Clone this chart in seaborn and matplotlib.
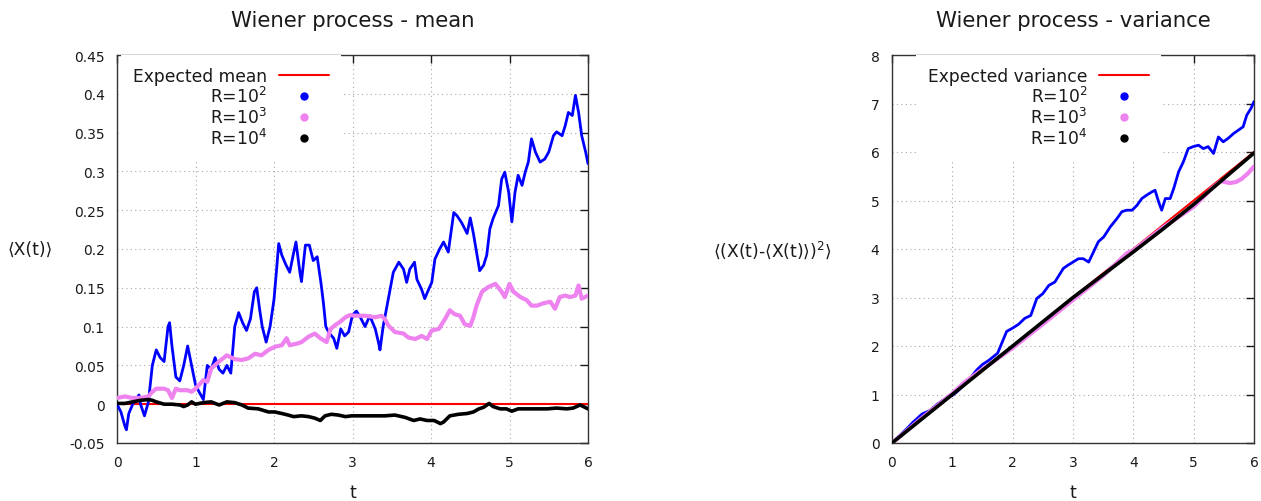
import matplotlib
matplotlib.use("Agg")
import matplotlib.pyplot as plt
from matplotlib.lines import Line2D
import numpy as np
import pandas as pd
import seaborn as sns

# ---------------- data ----------------
expected_t = [0.0, 6.0]
expected_mean = [0.0, 0.0]
expected_var = [0.0, 6.0]

mean_r2_t = [0.0, 0.05, 0.1, 0.12, 0.15, 0.2, 0.25, 0.28, 0.3, 0.35, 0.4, 0.45, 0.5, 0.55, 0.6,
             0.65, 0.67, 0.7, 0.75, 0.8, 0.85, 0.9, 0.95, 1.0, 1.05, 1.1, 1.15, 1.2, 1.25, 1.3,
             1.35, 1.4, 1.45, 1.5, 1.55, 1.6, 1.65, 1.7, 1.75, 1.78, 1.82, 1.85, 1.9, 1.95, 2.0,
             2.03, 2.06, 2.1, 2.15, 2.2, 2.25, 2.28, 2.33, 2.35, 2.4, 2.45, 2.5, 2.55, 2.6, 2.63,
             2.66, 2.7, 2.76, 2.8, 2.85, 2.9, 2.95, 3.0, 3.05, 3.1, 3.16, 3.22, 3.29, 3.33, 3.35,
             3.39, 3.44, 3.48, 3.52, 3.59, 3.65, 3.69, 3.73, 3.79, 3.82, 3.88, 3.92, 3.97, 4.01,
             4.05, 4.11, 4.16, 4.22, 4.29, 4.33, 4.39, 4.46, 4.5, 4.54, 4.58, 4.62, 4.67, 4.71,
             4.75, 4.79, 4.86, 4.9, 4.94, 4.99, 5.03, 5.07, 5.11, 5.16, 5.2, 5.24, 5.28, 5.33,
             5.39, 5.45, 5.5, 5.56, 5.6, 5.67, 5.71, 5.75, 5.8, 5.84, 5.88, 5.92, 5.97, 6.0]
mean_r2 = [0.0, -0.01, -0.028, -0.033, -0.012, 0.0, 0.007, 0.012, 0.0, -0.015, 0.003, 0.05, 0.07,
           0.06, 0.055, 0.1, 0.105, 0.075, 0.035, 0.03, 0.05, 0.075, 0.05, 0.025, 0.015, 0.006,
           0.05, 0.045, 0.06, 0.045, 0.04, 0.05, 0.04, 0.1, 0.118, 0.105, 0.095, 0.11, 0.145,
           0.15, 0.12, 0.1, 0.08, 0.1, 0.135, 0.17, 0.207, 0.192, 0.18, 0.17, 0.195, 0.209, 0.17,
           0.158, 0.205, 0.205, 0.185, 0.19, 0.155, 0.13, 0.1, 0.092, 0.085, 0.072, 0.097, 0.088,
           0.093, 0.115, 0.12, 0.112, 0.1, 0.114, 0.097, 0.08, 0.07, 0.1, 0.127, 0.148, 0.17,
           0.183, 0.174, 0.157, 0.174, 0.183, 0.161, 0.148, 0.136, 0.148, 0.157, 0.187, 0.2,
           0.209, 0.196, 0.247, 0.243, 0.234, 0.22, 0.24, 0.22, 0.196, 0.172, 0.179, 0.192,
           0.226, 0.239, 0.256, 0.29, 0.299, 0.273, 0.235, 0.273, 0.295, 0.282, 0.299, 0.312,
           0.342, 0.325, 0.312, 0.316, 0.325, 0.346, 0.351, 0.346, 0.359, 0.376, 0.372, 0.398,
           0.376, 0.346, 0.325, 0.31]

mean_r3_t = [0.0, 0.1, 0.2, 0.3, 0.4, 0.45, 0.5, 0.6, 0.65, 0.7, 0.75, 0.8, 0.9, 0.95, 1.0, 1.1,
             1.15, 1.2, 1.3, 1.4, 1.5, 1.59, 1.67, 1.76, 1.84, 1.93, 2.01, 2.1, 2.16, 2.2, 2.29,
             2.35, 2.44, 2.52, 2.59, 2.67, 2.72, 2.78, 2.84, 2.91, 2.97, 3.03, 3.1, 3.16, 3.29,
             3.37, 3.41, 3.46, 3.54, 3.65, 3.71, 3.8, 3.88, 3.95, 4.01, 4.1, 4.18, 4.24, 4.3,
             4.37, 4.43, 4.5, 4.54, 4.58, 4.65, 4.73, 4.82, 4.9, 4.94, 5.0, 5.05, 5.14, 5.22,
             5.28, 5.35, 5.43, 5.52, 5.58, 5.64, 5.71, 5.77, 5.84, 5.88, 5.92, 6.0]
mean_r3 = [0.008, 0.01, 0.008, 0.008, 0.01, 0.016, 0.02, 0.02, 0.018, 0.008, 0.02, 0.018, 0.018,
           0.016, 0.02, 0.031, 0.029, 0.046, 0.055, 0.063, 0.058, 0.057, 0.059, 0.065, 0.063,
           0.07, 0.074, 0.076, 0.085, 0.076, 0.078, 0.08, 0.087, 0.091, 0.085, 0.08, 0.097,
           0.102, 0.106, 0.112, 0.115, 0.114, 0.114, 0.114, 0.112, 0.114, 0.11, 0.101, 0.093,
           0.091, 0.086, 0.084, 0.088, 0.084, 0.095, 0.097, 0.11, 0.121, 0.116, 0.114, 0.103,
           0.101, 0.112, 0.127, 0.145, 0.151, 0.155, 0.145, 0.138, 0.155, 0.145, 0.138, 0.134,
           0.127, 0.127, 0.13, 0.132, 0.123, 0.138, 0.14, 0.138, 0.14, 0.153, 0.136, 0.14]

mean_r4_t = [0.0, 0.1, 0.2, 0.3, 0.4, 0.45, 0.5, 0.6, 0.7, 0.8, 0.85, 0.9, 0.95, 1.0, 1.1, 1.2,
             1.3, 1.4, 1.5, 1.59, 1.67, 1.8, 1.93, 2.01, 2.1, 2.18, 2.25, 2.35, 2.44, 2.52, 2.59,
             2.65, 2.73, 2.82, 2.91, 2.99, 3.16, 3.29, 3.41, 3.54, 3.67, 3.78, 3.86, 3.95, 4.04,
             4.12, 4.16, 4.24, 4.35, 4.46, 4.54, 4.61, 4.67, 4.74, 4.79, 4.88, 4.96, 5.03, 5.11,
             5.22, 5.35, 5.48, 5.6, 5.73, 5.81, 5.9, 6.0]
mean_r4 = [0.001, 0.001, 0.003, 0.005, 0.006, 0.005, 0.003, 0.0, 0.0, -0.001, -0.003, -0.001,
           0.003, 0.0, 0.002, 0.003, -0.001, 0.003, 0.002, -0.001, -0.005, -0.006, -0.01, -0.01,
           -0.012, -0.014, -0.016, -0.015, -0.016, -0.018, -0.021, -0.015, -0.013, -0.014,
           -0.016, -0.015, -0.015, -0.015, -0.015, -0.014, -0.017, -0.021, -0.019, -0.021,
           -0.021, -0.025, -0.023, -0.015, -0.013, -0.012, -0.01, -0.006, -0.004, 0.001, -0.003,
           -0.006, -0.006, -0.009, -0.006, -0.006, -0.006, -0.006, -0.005, -0.006, -0.005,
           -0.001, -0.006]

var_r2_t = [0.0, 0.1, 0.25, 0.35, 0.5, 0.63, 0.75, 0.9, 1.0, 1.07, 1.25, 1.4, 1.5, 1.6, 1.75,
            1.85, 1.9, 2.0, 2.1, 2.2, 2.3, 2.4, 2.5, 2.6, 2.7, 2.79, 2.84, 2.92, 3.0, 3.09, 3.17,
            3.26, 3.34, 3.42, 3.51, 3.62, 3.73, 3.81, 3.89, 3.98, 4.06, 4.14, 4.22, 4.31, 4.36,
            4.42, 4.47, 4.53, 4.61, 4.67, 4.75, 4.83, 4.91, 4.99, 5.08, 5.16, 5.24, 5.33, 5.41,
            5.49, 5.57, 5.66, 5.74, 5.82, 5.88, 5.95, 6.0]
var_r2 = [0.0, 0.12, 0.3, 0.43, 0.6, 0.67, 0.8, 0.93, 0.98, 1.05, 1.26, 1.5, 1.62, 1.7, 1.85,
          2.15, 2.3, 2.37, 2.45, 2.57, 2.63, 2.98, 3.08, 3.25, 3.32, 3.5, 3.6, 3.67, 3.73, 3.8,
          3.8, 3.73, 3.94, 4.15, 4.25, 4.46, 4.63, 4.77, 4.8, 4.8, 4.9, 5.04, 5.11, 5.18, 5.21,
          4.97, 4.8, 5.04, 5.04, 5.25, 5.59, 5.8, 6.07, 6.11, 6.14, 6.07, 6.11, 5.97, 6.31, 6.21,
          6.28, 6.38, 6.45, 6.52, 6.76, 6.9, 7.04]

var_r3_t = [0.0, 0.5, 1.0, 1.2, 1.5, 2.0, 2.5, 3.0, 3.5, 3.9, 4.0, 4.5, 5.0, 5.3, 5.45, 5.6,
            5.7, 5.8, 5.9, 6.0]
var_r3 = [0.0, 0.52, 1.02, 1.25, 1.52, 1.96, 2.45, 2.95, 3.45, 3.92, 3.97, 4.45, 4.87, 5.25,
          5.4, 5.36, 5.38, 5.45, 5.56, 5.7]

var_r4_t = [0.0, 0.5, 1.0, 1.5, 2.0, 2.5, 3.0, 3.5, 4.0, 4.5, 5.0, 5.5, 6.0]
var_r4 = [0.0, 0.5, 1.0, 1.5, 2.0, 2.5, 3.0, 3.47, 3.94, 4.42, 4.92, 5.45, 5.98]

x_tick_labels = ["0", "1", "2", "3", "4", "5", "6"]
mean_ytick_labels = ["-0.05", "0", "0.05", "0.1", "0.15", "0.2", "0.25", "0.3", "0.35", "0.4", "0.45"]
var_ytick_labels = ["0", "1", "2", "3", "4", "5", "6", "7", "8"]

series_labels = ["R=10$^{2}$", "R=10$^{3}$", "R=10$^{4}$"]
series_colors = ["#0000ff", "#ee82ee", "#000000"]

# ---------------- style ----------------
sns.set_style("white")
plt.rcParams['font.family'] = ['DejaVu Sans', 'Noto Sans']
plt.rcParams['mathtext.fontset'] = 'dejavusans'

W, H = 1261, 502
fig = plt.figure(figsize=(W / 100, H / 100), dpi=100)
ax1 = fig.add_axes([117 / W, 1 - 444 / H, 471 / W, 388 / H])
ax2 = fig.add_axes([892 / W, 1 - 444 / H, 362 / W, 388 / H])

TEXT = "#1a1a1a"


def style_axis(ax, xt, ylabels, title, ylabel, ylabel_x):
    ax.set_xlim(float(xt[0]), float(xt[-1]))
    ax.set_ylim(float(ylabels[0]), float(ylabels[-1]))
    ax.set_xticks([float(v) for v in xt])
    ax.set_xticklabels(xt)
    ax.set_yticks([float(v) for v in ylabels])
    ax.set_yticklabels(ylabels)
    ax.set_axisbelow(True)
    ax.grid(True, linestyle=(0, (1, 3)), color="#a8a8a8", linewidth=0.8)
    ax.tick_params(direction="in", length=6, width=1, top=True, right=True,
                   labelsize=10, colors=TEXT, pad=9)
    for s in ax.spines.values():
        s.set_color("#333333")
        s.set_linewidth(1)
    ax.set_title(title, fontsize=15.3, color=TEXT, pad=21)
    ax.set_xlabel("t", fontsize=12.3, color=TEXT, labelpad=10)
    ax.set_ylabel(ylabel, fontsize=12.3, color=TEXT, rotation=0, ha="center", va="center")
    ax.yaxis.set_label_coords(ylabel_x, 0.5)


def draw(ax, exp_y, series, exp_label, leg_x):
    sns.lineplot(x=expected_t, y=exp_y, ax=ax, color="#ff0000", linewidth=1.5,
                 estimator=None, sort=False, legend=False, zorder=2)
    lws = [2.0, 3.0, 2.6]
    for (tt, yy), c, lw in zip(series, series_colors, lws):
        sns.lineplot(x=tt, y=yy, ax=ax, color=c, linewidth=lw, estimator=None,
                     sort=False, legend=False, zorder=3)
    handles = [Line2D([], [], color="#ff0000", lw=1.5)]
    for c in series_colors:
        handles.append(Line2D([], [], color=c, marker="o", ls="none", markersize=5))
    leg = ax.legend(handles, [exp_label] + series_labels, loc="upper left",
                    bbox_to_anchor=(leg_x, 1.0),
                    markerfirst=False, frameon=True, facecolor="white", edgecolor="none",
                    framealpha=1, fancybox=False, fontsize=12.3, handlelength=2.9,
                    handletextpad=0.7, labelspacing=0.05, borderaxespad=0.0,
                    borderpad=0.7)
    for t in leg.get_texts():
        t.set_color(TEXT)
    leg.set_zorder(5)


draw(ax1, expected_mean, [(mean_r2_t, mean_r2), (mean_r3_t, mean_r3), (mean_r4_t, mean_r4)],
     "Expected mean", (121 - 117) / 471)
draw(ax2, expected_var, [(var_r2_t, var_r2), (var_r3_t, var_r3), (var_r4_t, var_r4)],
     "Expected variance", (916 - 892) / 362)

style_axis(ax1, x_tick_labels, mean_ytick_labels,
           "Wiener process - mean", "\u27e8X(t)\u27e9", -0.185)
style_axis(ax2, x_tick_labels, var_ytick_labels,
           "Wiener process - variance", "\u27e8(X(t)-\u27e8X(t)\u27e9)$^{2}$\u27e9", -0.33)

fig.savefig("out.png", dpi=100)
